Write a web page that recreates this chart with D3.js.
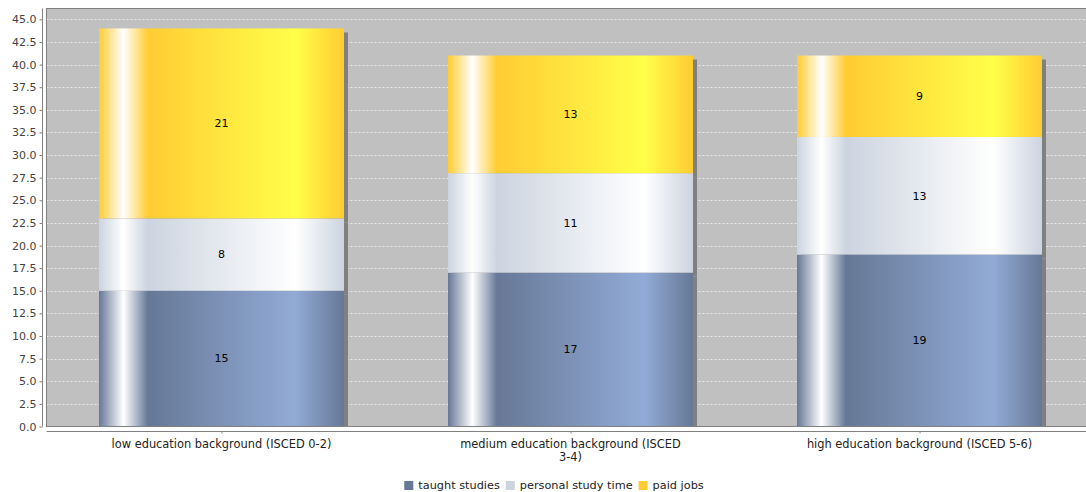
<!DOCTYPE html>
<html><head><meta charset="utf-8">
<script src="https://cdn.jsdelivr.net/npm/d3@7"></script>
<style>body{margin:0;background:#fff}svg{display:block}text{font-family:"DejaVu Sans",sans-serif}</style>
</head><body><svg id="c" width="1086" height="492"></svg>
<script>
const categories = ["low education background (ISCED 0-2)", "medium education background (ISCED 3-4)", "high education background (ISCED 5-6)"];
const seriesNames = ["taught studies", "personal study time", "paid jobs"];
const taught = [15, 17, 19];
const personal = [8, 11, 13];
const paid = [21, 13, 9];
const yTicks = [0,2.5,5,7.5,10,12.5,15,17.5,20,22.5,25,27.5,30,32.5,35,37.5,40,42.5,45];
const seriesColors = ["rgb(102,120,150)", "rgb(204,212,224)", "rgb(255,204,51)"];

const values = [taught, personal, paid];
const svg = d3.select("#c");
const L = 46.5, T = 8.5, B = 426.5, R = 1094;
const y = d3.scaleLinear().domain([0, 46.2]).range([B, T]);
const x = d3.scalePoint().domain(categories).range([47, R]).padding(0.5);
const bw = x.step() * 0.702;

function brighter(c){ const r = d3.rgb(c); return d3.rgb(Math.min(255, r.r/0.7), Math.min(255, r.g/0.7), Math.min(255, r.b/0.7)); }
const defs = svg.append("defs");
seriesColors.forEach((c, i) => {
  const c1 = brighter(c).toString();
  const g = defs.append("linearGradient").attr("id", "g" + i).attr("x1", 0).attr("x2", 1).attr("y1", 0).attr("y2", 0);
  [[0, c], [0.1, "#fff"], [0.2, c], [0.8, c1], [1, c]].forEach(s => g.append("stop").attr("offset", s[0]).attr("stop-color", s[1]));
});
defs.append("clipPath").attr("id", "clip").append("rect").attr("x", L).attr("y", T).attr("width", R - L).attr("height", B - T);

svg.append("rect").attr("x", L).attr("y", T).attr("width", R - L).attr("height", B - T).attr("fill", "#c0c0c0");
svg.append("g").selectAll("line").data(yTicks).join("line")
  .attr("x1", L).attr("x2", R).attr("y1", d => Math.round(y(d)) + 0.5).attr("y2", d => Math.round(y(d)) + 0.5)
  .attr("stroke", "#fff").attr("stroke-width", 0.8).attr("stroke-dasharray", "2,2").attr("opacity", 0.85);

const stack = d3.stack().keys([0, 1, 2]).value((d, k) => values[k][d])(categories.map((c, i) => i));
const plotG = svg.append("g").attr("clip-path", "url(#clip)");
stack.forEach(layer => layer.forEach((seg, j) => {
  plotG.append("rect").attr("x", x(categories[j]) - bw / 2 + 4).attr("y", y(seg[1]) + 4)
    .attr("width", bw).attr("height", y(seg[0]) - y(seg[1])).attr("fill", "#808080");
}));
stack.forEach((layer, k) => layer.forEach((seg, j) => {
  plotG.append("rect").attr("x", x(categories[j]) - bw / 2).attr("y", y(seg[1]))
    .attr("width", bw).attr("height", y(seg[0]) - y(seg[1])).attr("fill", "url(#g" + k + ")");
}));
stack.forEach((layer, k) => layer.forEach((seg, j) => {
  svg.append("text").attr("x", x(categories[j])).attr("y", (y(seg[0]) + y(seg[1])) / 2).attr("dy", "0.35em")
    .attr("text-anchor", "middle").attr("font-size", 11).attr("fill", "#000").text(values[k][j]);
}));

svg.append("rect").attr("x", L).attr("y", T).attr("width", R - L).attr("height", B - T).attr("fill", "none").attr("stroke", "#808080");

// y axis
const ya = svg.append("g").attr("transform", "translate(42.5,0)").call(d3.axisLeft(y).tickValues(yTicks).tickFormat(d3.format(".1f")).tickSize(3).tickPadding(3));
ya.select(".domain").attr("stroke", "#808080").attr("d", `M0,${T}V${B}`);
ya.selectAll(".tick line").attr("stroke", "#808080");
ya.selectAll("text").attr("font-size", 11).attr("fill", "#444").attr("font-family", "DejaVu Sans");

// x axis
const xa = svg.append("g").attr("transform", "translate(0,431.5)").call(d3.axisBottom(x).tickSize(2).tickFormat(""));
xa.select(".domain").attr("stroke", "#808080").attr("d", `M${L},0H${R}`);
xa.selectAll(".tick line").attr("stroke", "#808080");
categories.forEach(c => {
  const t = svg.append("text").attr("x", x(c)).attr("y", 448).attr("text-anchor", "middle").attr("font-size", 11.4).attr("fill", "#222");
  const words = c.split(" ");
  let line = [], lines = [];
  const tmp = t.append("tspan");
  words.forEach(w => {
    const test = line.concat([w]).join(" ");
    tmp.text(test);
    if (tmp.node().getComputedTextLength() > 238 && line.length) { lines.push(line.join(" ")); line = [w]; }
    else line.push(w);
  });
  lines.push(line.join(" "));
  tmp.remove();
  lines.forEach((l, i) => t.append("tspan").attr("x", x(c)).attr("dy", i ? 13 : 0).text(l));
});

// legend
const lg = svg.append("g");
let lx = 0;
seriesNames.forEach((n, i) => {
  const g = lg.append("g").attr("transform", `translate(${lx},0)`);
  g.append("rect").attr("x", 0).attr("y", 481).attr("width", 9).attr("height", 9).attr("fill", seriesColors[i]);
  const t = g.append("text").attr("x", 14).attr("y", 489).attr("font-size", 11.3).attr("fill", "#222").text(n);
  lx += 14 + t.node().getComputedTextLength() + 6;
});
const lw = lx - 6;
lg.attr("transform", `translate(${554 - lw / 2},0)`);
</script></body></html>
